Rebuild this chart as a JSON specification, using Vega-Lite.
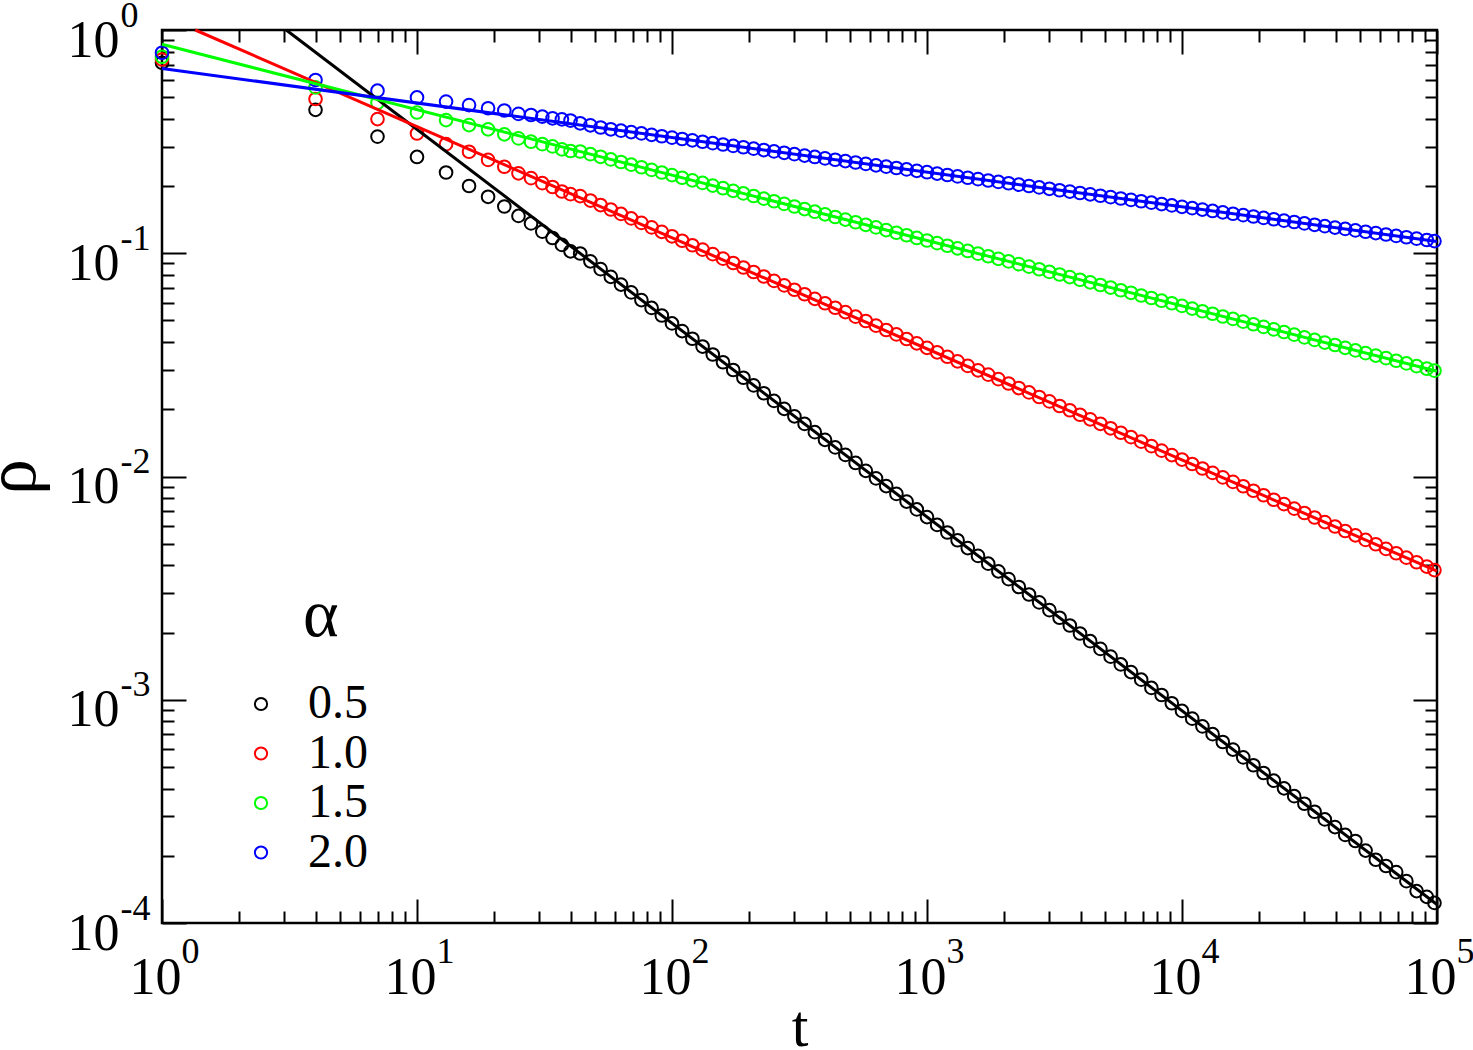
{
"$schema": "https://vega.github.io/schema/vega-lite/v6.json",
"width": 1275, "height": 893,
"autosize": {"type": "none"},
"padding": {"left": 162, "top": 30, "right": 36, "bottom": 127},
"background": "white",
"datasets": {
"pts": [
{"t":1,"a05":0.713,"a10":0.738,"a15":0.759,"a20":0.791},
{"t":4,"a05":0.439,"a10":0.491,"a15":0.553,"a20":0.597},
{"t":7,"a05":0.333,"a10":0.399,"a15":0.472,"a20":0.535},
{"t":10,"a05":0.270,"a10":0.344,"a15":0.427,"a20":0.499},
{"t":13,"a05":0.230,"a10":0.308,"a15":0.395,"a20":0.478},
{"t":16,"a05":0.200,"a10":0.285,"a15":0.375,"a20":0.461},
{"t":19,"a05":0.179,"a10":0.262,"a15":0.359,"a20":0.446},
{"t":22,"a05":0.162,"a10":0.244,"a15":0.341,"a20":0.436},
{"t":25,"a05":0.147,"a10":0.228,"a15":0.327,"a20":0.421},
{"t":28,"a05":0.136,"a10":0.217,"a15":0.316,"a20":0.416},
{"t":31,"a05":0.125,"a10":0.206,"a15":0.308,"a20":0.409},
{"t":34,"a05":0.117,"a10":0.198,"a15":0.301,"a20":0.402},
{"t":37,"a05":0.109,"a10":0.189,"a15":0.292,"a20":0.398},
{"t":40,"a05":0.102,"a10":0.184,"a15":0.287,"a20":0.393},
{"t":43.65,"a05":0.0997,"a10":0.1803,"a15":0.2855,"a20":0.382},
{"t":47.86,"a05":0.0920,"a10":0.1722,"a15":0.2778,"a20":0.374},
{"t":52.48,"a05":0.0849,"a10":0.1644,"a15":0.2704,"a20":0.366},
{"t":57.54,"a05":0.0784,"a10":0.1570,"a15":0.2632,"a20":0.3591},
{"t":63.10,"a05":0.0724,"a10":0.1500,"a15":0.2563,"a20":0.3540},
{"t":69.18,"a05":0.0668,"a10":0.1432,"a15":0.2494,"a20":0.3490},
{"t":75.86,"a05":0.0617,"a10":0.1368,"a15":0.2428,"a20":0.3441},
{"t":83.18,"a05":0.0569,"a10":0.1306,"a15":0.2363,"a20":0.3392},
{"t":91.20,"a05":0.0526,"a10":0.1247,"a15":0.2300,"a20":0.3344},
{"t":100,"a05":0.0485,"a10":0.1191,"a15":0.2239,"a20":0.3296},
{"t":109.6,"a05":0.0448,"a10":0.1138,"a15":0.2179,"a20":0.3250},
{"t":120.2,"a05":0.0414,"a10":0.1086,"a15":0.2121,"a20":0.3204},
{"t":131.8,"a05":0.0382,"a10":0.1038,"a15":0.2065,"a20":0.3158},
{"t":144.5,"a05":0.0352,"a10":0.0991,"a15":0.2010,"a20":0.3113},
{"t":158.5,"a05":0.0325,"a10":0.0946,"a15":0.1956,"a20":0.3069},
{"t":173.8,"a05":0.0300,"a10":0.0904,"a15":0.1904,"a20":0.3026},
{"t":190.5,"a05":0.0277,"a10":0.0863,"a15":0.1854,"a20":0.2983},
{"t":208.9,"a05":0.0256,"a10":0.0824,"a15":0.1805,"a20":0.2941},
{"t":229.1,"a05":0.0236,"a10":0.0787,"a15":0.1756,"a20":0.2899},
{"t":251.2,"a05":0.0218,"a10":0.0752,"a15":0.1710,"a20":0.2858},
{"t":275.4,"a05":0.0201,"a10":0.0718,"a15":0.1664,"a20":0.2818},
{"t":302.0,"a05":0.0186,"a10":0.0686,"a15":0.1620,"a20":0.2778},
{"t":331.1,"a05":0.0172,"a10":0.0655,"a15":0.1577,"a20":0.2738},
{"t":363.1,"a05":0.0158,"a10":0.0625,"a15":0.1535,"a20":0.2700},
{"t":398.1,"a05":0.0146,"a10":0.0597,"a15":0.1494,"a20":0.2661},
{"t":436.5,"a05":0.0135,"a10":0.0570,"a15":0.1454,"a20":0.2624},
{"t":478.6,"a05":0.0125,"a10":0.0545,"a15":0.1415,"a20":0.2587},
{"t":524.8,"a05":0.0115,"a10":0.0520,"a15":0.1377,"a20":0.2550},
{"t":575.4,"a05":0.0106,"a10":0.0497,"a15":0.1341,"a20":0.2514},
{"t":631.0,"a05":0.00981,"a10":0.0474,"a15":0.1305,"a20":0.2477},
{"t":691.8,"a05":0.00906,"a10":0.0453,"a15":0.1270,"a20":0.2442},
{"t":758.6,"a05":0.00836,"a10":0.0433,"a15":0.1236,"a20":0.2408},
{"t":831.8,"a05":0.00772,"a10":0.0413,"a15":0.1204,"a20":0.2374},
{"t":912.0,"a05":0.00712,"a10":0.0395,"a15":0.1171,"a20":0.2340},
{"t":1000,"a05":0.00658,"a10":0.0377,"a15":0.1140,"a20":0.2307},
{"t":1096,"a05":0.00607,"a10":0.0360,"a15":0.1110,"a20":0.2274},
{"t":1202,"a05":0.00561,"a10":0.0344,"a15":0.1080,"a20":0.2242},
{"t":1318,"a05":0.00518,"a10":0.0328,"a15":0.1052,"a20":0.2210},
{"t":1445,"a05":0.00478,"a10":0.0313,"a15":0.1024,"a20":0.2179},
{"t":1585,"a05":0.00441,"a10":0.0299,"a15":0.0996,"a20":0.2148},
{"t":1738,"a05":0.00407,"a10":0.0286,"a15":0.0970,"a20":0.2117},
{"t":1905,"a05":0.00376,"a10":0.0273,"a15":0.0944,"a20":0.2087},
{"t":2089,"a05":0.00347,"a10":0.0261,"a15":0.0919,"a20":0.2058},
{"t":2291,"a05":0.00320,"a10":0.0249,"a15":0.0894,"a20":0.2029},
{"t":2512,"a05":0.00296,"a10":0.0238,"a15":0.0871,"a20":0.2000},
{"t":2754,"a05":0.00273,"a10":0.0227,"a15":0.0848,"a20":0.1972},
{"t":3020,"a05":0.00252,"a10":0.0217,"a15":0.0825,"a20":0.1944},
{"t":3311,"a05":0.00233,"a10":0.0207,"a15":0.0803,"a20":0.1916},
{"t":3631,"a05":0.00215,"a10":0.0198,"a15":0.0782,"a20":0.1889},
{"t":3981,"a05":0.00198,"a10":0.0189,"a15":0.0761,"a20":0.1862},
{"t":4365,"a05":0.00183,"a10":0.01803,"a15":0.0741,"a20":0.1836},
{"t":4786,"a05":0.00169,"a10":0.01722,"a15":0.0721,"a20":0.1810},
{"t":5248,"a05":0.00156,"a10":0.01644,"a15":0.0702,"a20":0.1784},
{"t":5754,"a05":0.00144,"a10":0.01570,"a15":0.0683,"a20":0.1759},
{"t":6310,"a05":0.00133,"a10":0.01500,"a15":0.0665,"a20":0.1734},
{"t":6918,"a05":0.00123,"a10":0.01432,"a15":0.0647,"a20":0.1710},
{"t":7586,"a05":0.00113,"a10":0.01368,"a15":0.0630,"a20":0.1685},
{"t":8318,"a05":0.00105,"a10":0.01306,"a15":0.0613,"a20":0.1661},
{"t":9120,"a05":0.000965,"a10":0.01247,"a15":0.0597,"a20":0.1638},
{"t":10000,"a05":0.000891,"a10":0.01191,"a15":0.0581,"a20":0.1614},
{"t":10965,"a05":0.000823,"a10":0.01138,"a15":0.0565,"a20":0.1592},
{"t":12023,"a05":0.000760,"a10":0.01086,"a15":0.0550,"a20":0.1569},
{"t":13183,"a05":0.000701,"a10":0.01038,"a15":0.0536,"a20":0.1547},
{"t":14454,"a05":0.000647,"a10":0.00991,"a15":0.0521,"a20":0.1525},
{"t":15849,"a05":0.000598,"a10":0.00946,"a15":0.0508,"a20":0.1503},
{"t":17378,"a05":0.000552,"a10":0.00904,"a15":0.0494,"a20":0.1482},
{"t":19055,"a05":0.000509,"a10":0.00863,"a15":0.0481,"a20":0.1461},
{"t":20893,"a05":0.000470,"a10":0.00824,"a15":0.0468,"a20":0.1440},
{"t":22909,"a05":0.000434,"a10":0.00787,"a15":0.0456,"a20":0.1420},
{"t":25119,"a05":0.000401,"a10":0.00752,"a15":0.0444,"a20":0.1400},
{"t":27542,"a05":0.000370,"a10":0.00718,"a15":0.0432,"a20":0.1380},
{"t":30200,"a05":0.000342,"a10":0.00686,"a15":0.0420,"a20":0.1360},
{"t":33113,"a05":0.000315,"a10":0.00655,"a15":0.0409,"a20":0.1341},
{"t":36308,"a05":0.000291,"a10":0.00625,"a15":0.0398,"a20":0.1322},
{"t":39811,"a05":0.000269,"a10":0.00597,"a15":0.0388,"a20":0.1303},
{"t":43652,"a05":0.000248,"a10":0.00570,"a15":0.0377,"a20":0.1285},
{"t":47863,"a05":0.000233,"a10":0.00545,"a15":0.0367,"a20":0.1266},
{"t":52481,"a05":0.000211,"a10":0.00520,"a15":0.0357,"a20":0.1248},
{"t":57544,"a05":0.000192,"a10":0.00497,"a15":0.0348,"a20":0.1231},
{"t":63096,"a05":0.000180,"a10":0.00474,"a15":0.0339,"a20":0.1213},
{"t":69183,"a05":0.000169,"a10":0.00453,"a15":0.0330,"a20":0.1196},
{"t":75858,"a05":0.000154,"a10":0.00433,"a15":0.0321,"a20":0.1179},
{"t":83176,"a05":0.000139,"a10":0.00413,"a15":0.0312,"a20":0.1163},
{"t":91201,"a05":0.000131,"a10":0.00395,"a15":0.0304,"a20":0.1146},
{"t":97724,"a05":0.000123,"a10":0.00381,"a15":0.0298,"a20":0.1134}
],
"fit": [
{"series":"a05","t":3.07,"rho":1},{"series":"a05","t":100000,"rho":0.000121},
{"series":"a10","t":1.35,"rho":1},{"series":"a10","t":100000,"rho":0.00377},
{"series":"a15","t":1,"rho":0.863},{"series":"a15","t":100000,"rho":0.0296},
{"series":"a20","t":1,"rho":0.673},{"series":"a20","t":100000,"rho":0.113}
]
},
"layer": [
{
"data": {"name": "pts"},
"transform": [{"fold": ["a05","a10","a15","a20"], "as": ["series","rho"]}],
"mark": {"type": "point", "shape": "circle", "filled": false, "size": 160, "strokeWidth": 2, "opacity": 1},
"encoding": {
"x": {"field": "t", "type": "quantitative", "scale": {"type": "log", "domain": [1, 100000], "nice": false},
 "axis": {"orient": "bottom", "values": [1,10,100,1000,10000,100000], "labelExpr": "'10'", "ticks": false, "domain": false, "grid": false,
  "labelFont": "Liberation Serif", "labelFontSize": 52, "labelColor": "black", "labelBaseline": "top", "labelAlign": "center", "labelPadding": 29, "labelOffset": -7, "labelFlush": false, "labelOverlap": false, "labelBound": false,
  "title": "t", "titleFont": "Liberation Serif", "titleFontSize": 60, "titleFontWeight": "normal", "titleColor": "black", "titleX": 637.5, "titleY": 122, "titleBaseline": "alphabetic", "titleAlign": "center"}},
"y": {"field": "rho", "type": "quantitative", "scale": {"type": "log", "domain": [0.0001, 1], "nice": false},
 "axis": {"orient": "left", "values": [0.0001,0.001,0.01,0.1,1], "labelExpr": "'10'", "ticks": false, "domain": false, "grid": false,
  "labelFont": "Liberation Serif", "labelFontSize": 52, "labelColor": "black", "labelBaseline": "middle", "labelAlign": "right", "labelPadding": 43, "labelOffset": 10, "labelFlush": false, "labelOverlap": false, "labelBound": false,
  "title": "ρ", "titleFont": "Liberation Serif", "titleFontSize": 72, "titleFontWeight": "normal", "titleColor": "black", "titleAngle": 270, "titleX": -128, "titleY": 446.5, "titleBaseline": "alphabetic", "titleAlign": "center"}},
"color": {"field": "series", "type": "nominal",
 "scale": {"domain": ["a05","a10","a15","a20"], "range": ["#000000","#ff0000","#00ff00","#0000ff"]},
 "legend": {"orient": "none", "legendX": 75, "legendY": 552, "padding": 0, "title": "α", "titleFont": "Liberation Serif", "titleFontSize": 68, "titleFontWeight": "normal", "titleColor": "black", "titleAnchor": "middle", "titleAlign": "left", "titlePadding": 30,
  "labelFont": "Liberation Serif", "labelFontSize": 48, "labelColor": "black", "labelOffset": 23, "symbolSize": 150, "symbolStrokeWidth": 2, "symbolType": "circle", "rowPadding": 1.5,
  "labelExpr": "datum.label == 'a05' ? '0.5' : datum.label == 'a10' ? '1.0' : datum.label == 'a15' ? '1.5' : '2.0'"}}
}
},
{
"data": {"name": "fit"},
"mark": {"type": "line", "strokeWidth": 3},
"encoding": {
"x": {"field": "t", "type": "quantitative", "scale": {"type": "log", "domain": [1, 100000], "nice": false},
 "axis": {"orient": "bottom", "values": [1,10,100,1000,10000,100000], "labelExpr": "'' + round(log(datum.value)/LN10)", "ticks": false, "domain": false, "grid": false,
  "labelFont": "Liberation Serif", "labelFontSize": 36, "labelColor": "black", "labelBaseline": "top", "labelAlign": "left", "labelPadding": 11, "labelOffset": 19, "labelFlush": false, "labelOverlap": false, "labelBound": false, "title": null}},
"y": {"field": "rho", "type": "quantitative", "scale": {"type": "log", "domain": [0.0001, 1], "nice": false},
 "axis": {"orient": "left", "values": [0.0001,0.001,0.01,0.1,1], "labelExpr": "'' + round(log(datum.value)/LN10)", "ticks": false, "domain": false, "grid": false,
  "labelFont": "Liberation Serif", "labelFontSize": 36, "labelColor": "black", "labelBaseline": "middle", "labelAlign": "left", "labelPadding": 42, "labelOffset": -15, "labelFlush": false, "labelOverlap": false, "labelBound": false, "title": null}},
"color": {"field": "series", "type": "nominal", "scale": {"domain": ["a05","a10","a15","a20"], "range": ["#000000","#ff0000","#00ff00","#0000ff"]}, "legend": null}
}
},
{
"data": {"name": "fit"},
"mark": {"type": "point", "opacity": 0},
"encoding": {
"x": {"field": "t", "type": "quantitative", "scale": {"type": "log", "domain": [1, 100000], "nice": false},
 "axis": {"orient": "bottom", "values": [1,10,100,1000,10000,100000], "labels": false, "domain": false, "grid": false, "ticks": true, "tickSize": -24, "tickWidth": 2, "tickColor": "black", "title": null}},
"y": {"field": "rho", "type": "quantitative", "scale": {"type": "log", "domain": [0.0001, 1], "nice": false},
 "axis": {"orient": "left", "values": [0.0001,0.001,0.01,0.1,1], "labels": false, "domain": false, "grid": false, "ticks": true, "tickSize": -24, "tickWidth": 2, "tickColor": "black", "title": null}}
}
},
{
"data": {"name": "fit"},
"mark": {"type": "point", "opacity": 0},
"encoding": {
"x": {"field": "t", "type": "quantitative", "scale": {"type": "log", "domain": [1, 100000], "nice": false},
 "axis": {"orient": "bottom", "values": [2,3,4,5,6,7,8,9,20,30,40,50,60,70,80,90,200,300,400,500,600,700,800,900,2000,3000,4000,5000,6000,7000,8000,9000,20000,30000,40000,50000,60000,70000,80000,90000], "labels": false, "domain": false, "grid": false, "ticks": true, "tickSize": -12, "tickWidth": 2, "tickColor": "black", "title": null}},
"y": {"field": "rho", "type": "quantitative", "scale": {"type": "log", "domain": [0.0001, 1], "nice": false},
 "axis": {"orient": "left", "values": [0.0002,0.0003,0.0004,0.0005,0.0006,0.0007,0.0008,0.0009,0.002,0.003,0.004,0.005,0.006,0.007,0.008,0.009,0.02,0.03,0.04,0.05,0.06,0.07,0.08,0.09,0.2,0.3,0.4,0.5,0.6,0.7,0.8,0.9], "labels": false, "domain": false, "grid": false, "ticks": true, "tickSize": -12, "tickWidth": 2, "tickColor": "black", "title": null}}
}
},
{
"data": {"name": "fit"},
"mark": {"type": "point", "opacity": 0},
"encoding": {
"x": {"field": "t", "type": "quantitative", "scale": {"type": "log", "domain": [1, 100000], "nice": false},
 "axis": {"orient": "top", "values": [1,10,100,1000,10000,100000], "labels": false, "domain": false, "grid": false, "ticks": true, "tickSize": -24, "tickWidth": 2, "tickColor": "black", "title": null}},
"y": {"field": "rho", "type": "quantitative", "scale": {"type": "log", "domain": [0.0001, 1], "nice": false},
 "axis": {"orient": "right", "values": [0.0001,0.001,0.01,0.1,1], "labels": false, "domain": false, "grid": false, "ticks": true, "tickSize": -24, "tickWidth": 2, "tickColor": "black", "title": null}}
}
},
{
"data": {"name": "fit"},
"mark": {"type": "point", "opacity": 0},
"encoding": {
"x": {"field": "t", "type": "quantitative", "scale": {"type": "log", "domain": [1, 100000], "nice": false},
 "axis": {"orient": "top", "values": [2,3,4,5,6,7,8,9,20,30,40,50,60,70,80,90,200,300,400,500,600,700,800,900,2000,3000,4000,5000,6000,7000,8000,9000,20000,30000,40000,50000,60000,70000,80000,90000], "labels": false, "domain": false, "grid": false, "ticks": true, "tickSize": -12, "tickWidth": 2, "tickColor": "black", "title": null}},
"y": {"field": "rho", "type": "quantitative", "scale": {"type": "log", "domain": [0.0001, 1], "nice": false},
 "axis": {"orient": "right", "values": [0.0002,0.0003,0.0004,0.0005,0.0006,0.0007,0.0008,0.0009,0.002,0.003,0.004,0.005,0.006,0.007,0.008,0.009,0.02,0.03,0.04,0.05,0.06,0.07,0.08,0.09,0.2,0.3,0.4,0.5,0.6,0.7,0.8,0.9], "labels": false, "domain": false, "grid": false, "ticks": true, "tickSize": -12, "tickWidth": 2, "tickColor": "black", "title": null}}
}
}
],
"resolve": {"axis": {"x": "independent", "y": "independent"}},
"config": {"view": {"stroke": "#000000", "strokeWidth": 2.5}, "font": "Liberation Serif"}
}
